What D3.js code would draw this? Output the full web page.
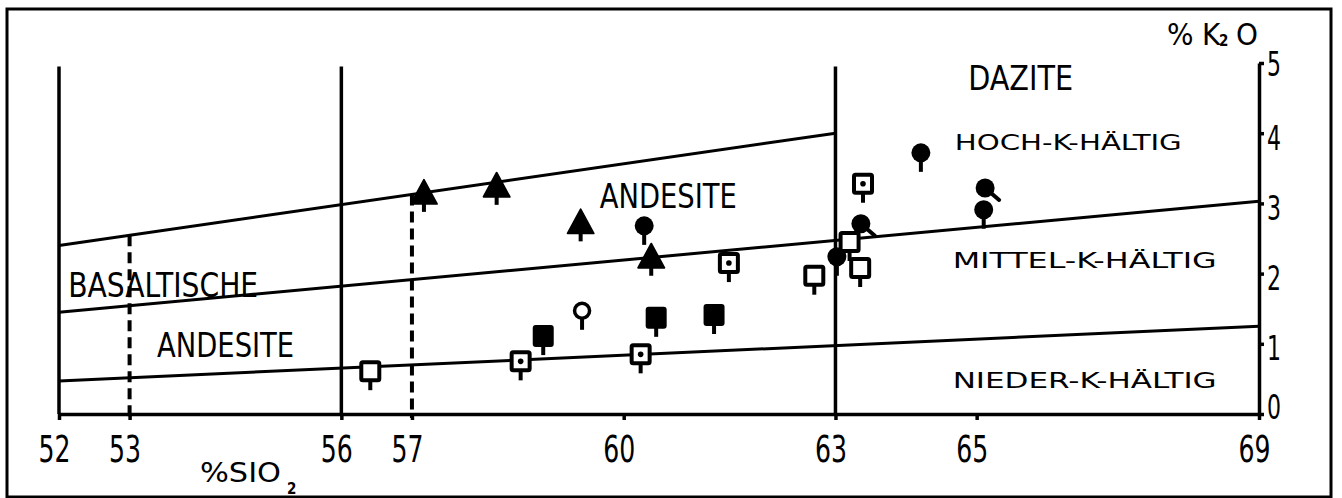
<!DOCTYPE html>
<html>
<head>
<meta charset="utf-8">
<script src="https://cdn.jsdelivr.net/npm/d3@7"></script>
<style>
  body { margin: 0; background: #fff; }
  svg { display: block; }
  text { font-family: "Liberation Sans Narrow", "DejaVu Sans Condensed", "Liberation Sans", sans-serif; fill: #000; }
</style>
</head>
<body>
<svg width="1342" height="498"></svg>
<script>
// tick labels
const sio2Ticks = [52, 53, 56, 57, 60, 63, 65, 69];
const k2oTicks = [0, 1, 2, 3, 4, 5];

// field boundaries (SiO2)
const solidBounds = [52, 56, 63];
const dashedBounds = [53, 57];

// K2O dividing lines, [SiO2, K2O]
const highLine = [[52, 2.4], [63, 4.0]];
const midLine = [[52, 1.45], [69, 3.03]];
const lowLine = [[52, 0.47], [69, 1.25]];

// samples by symbol, [SiO2, K2O]
const triangles = [[57.17, 3.15], [58.2, 3.25], [59.39, 2.73], [60.39, 2.24]];
const filledCircles = [[60.29, 2.68], [64.21, 3.72], [65.1, 2.91], [63.02, 2.24]];
const tailCircles = [[65.12, 3.22], [63.36, 2.71]];
const dotSquares = [[63.39, 3.28], [61.49, 2.15], [58.54, 0.75], [60.24, 0.85]];
const openSquares = [[56.41, 0.61], [62.7, 1.97], [63.2, 2.45], [63.35, 2.08]];
const filledSquares = [[58.86, 1.11], [60.46, 1.37], [61.28, 1.41]];
const openCircles = [[59.41, 1.47]];

const svg = d3.select('svg');

const x = d3.scaleLinear().domain([52, 69]).range([59, 1259]);
const y = d3.scaleLinear().domain([0, 5]).range([414, 63]);

// outer frame
svg.append('rect')
    .attr('x', 7).attr('y', 9)
    .attr('width', 1324).attr('height', 488)
    .style('fill', 'none')
    .style('stroke', '#000')
    .style('stroke-width', 3);

const line = d3.line().x(d => x(d[0])).y(d => y(d[1]));

// vertical field lines
svg.selectAll('.solid')
    .data(solidBounds)
    .enter()
    .append('line')
    .attr('x1', d => x(d)).attr('x2', d => x(d))
    .attr('y1', y(4.95)).attr('y2', y(0))
    .style('stroke', '#000')
    .style('stroke-width', 3.5);

const highAt = (s) => highLine[0][1] + (s - highLine[0][0]) * (highLine[1][1] - highLine[0][1]) / (highLine[1][0] - highLine[0][0]);

svg.selectAll('.dashed')
    .data(dashedBounds)
    .enter()
    .append('line')
    .attr('x1', d => x(d)).attr('x2', d => x(d))
    .attr('y1', d => y(highAt(d))).attr('y2', y(0) + 4)
    .style('stroke', '#000')
    .style('stroke-width', 4)
    .style('stroke-dasharray', '11,6');

// K2O dividing lines
[highLine, midLine, lowLine].forEach(l => {
    svg.append('path')
        .attr('d', line(l))
        .style('fill', 'none')
        .style('stroke', '#000')
        .style('stroke-width', 3);
});

// axes
const xAxis = svg.append('g')
    .attr('transform', `translate(0,${y(0)})`)
    .call(d3.axisBottom(x).tickValues(sio2Ticks).tickSize(6).tickSizeOuter(0).tickFormat(d3.format('d')));

const yAxis = svg.append('g')
    .attr('transform', `translate(${x(69)},0)`)
    .call(d3.axisRight(y).tickValues(k2oTicks).tickSize(5).tickSizeOuter(0).tickFormat(d3.format('d')));

[xAxis, yAxis].forEach(a => {
    a.select('.domain').style('stroke', '#000').style('stroke-width', 3.5);
    a.selectAll('.tick line').style('stroke', '#000').style('stroke-width', 3.5);
    a.selectAll('text').style('font-family', null).style('fill', '#000');
});

xAxis.selectAll('text')
    .attr('y', 48).attr('dy', 0).attr('dx', -5)
    .style('font-size', '37px')
    .attr('textLength', 32)
    .attr('lengthAdjust', 'spacingAndGlyphs');

yAxis.selectAll('text')
    .attr('x', 8).attr('y', d => d === 0 ? 4 : (d === 5 ? 12 : 16)).attr('dy', 0)
    .style('font-size', '33px')
    .attr('textLength', 14)
    .attr('lengthAdjust', 'spacingAndGlyphs');

// field labels
function label(txt, sx, ky, size, len) {
    svg.append('text')
        .attr('x', x(sx)).attr('y', y(ky))
        .style('font-size', size + 'px')
        .attr('textLength', len)
        .attr('lengthAdjust', 'spacingAndGlyphs')
        .text(txt);
}
label('BASALTISCHE', 52.13, 1.67, 34, 190);
label('ANDESITE', 53.39, 0.81, 34, 137);
label('ANDESITE', 59.66, 2.93, 34, 137);
label('DAZITE', 64.88, 4.62, 34, 105);
label('HOCH-K-HÄLTIG', 64.69, 3.76, 22, 227);
label('MITTEL-K-HÄLTIG', 64.66, 2.08, 22, 264);
label('NIEDER-K-HÄLTIG', 64.66, 0.37, 22, 264);

// axis titles
const kTitle = svg.append('text').attr('y', 45).style('font-size', '31px');
kTitle.append('tspan').attr('x', 1167).text('%');
kTitle.append('tspan').attr('x', 1202).text('K');
kTitle.append('tspan').attr('x', 1219).attr('y', 46).style('font-size', '15px').style('font-weight', 'bold').text('2');
kTitle.append('tspan').attr('x', 1236).attr('y', 45).text('O');

const sTitle = svg.append('text').attr('y', 482).style('font-size', '27px');
sTitle.append('tspan').attr('x', 200).attr('textLength', 81).attr('lengthAdjust', 'spacingAndGlyphs').text('%SIO');
sTitle.append('tspan').attr('x', 287).attr('y', 494).style('font-size', '15px').style('font-weight', 'bold').text('2');

// symbols with a short stem below
function stem(g, from) {
    g.append('line')
        .attr('x1', 0).attr('x2', 0)
        .attr('y1', from).attr('y2', 19)
        .style('stroke', '#000')
        .style('stroke-width', 4);
}
function points(data) {
    return svg.append('g').selectAll('g')
        .data(data)
        .enter()
        .append('g')
        .attr('transform', d => `translate(${x(d[0])},${y(d[1])})`);
}

points(triangles).each(function () {
    const g = d3.select(this);
    stem(g, 8);
    g.append('path')
        .attr('d', 'M0,-13 L13,11 L-13,11 Z')
        .style('fill', '#000')
        .style('stroke', '#000')
        .style('stroke-width', 2)
        .style('stroke-linejoin', 'round');
});

points(filledCircles).each(function () {
    const g = d3.select(this);
    stem(g, 6);
    g.append('circle').attr('r', 9.5).style('fill', '#000');
});

points(tailCircles).each(function () {
    const g = d3.select(this);
    g.append('line')
        .attr('x1', 0).attr('y1', 0).attr('x2', 14).attr('y2', 12)
        .style('stroke', '#000').style('stroke-width', 4).style('stroke-linecap', 'round');
    g.append('circle').attr('r', 9.5).style('fill', '#000');
});

points(openSquares).each(function () {
    const g = d3.select(this);
    stem(g, 10);
    g.append('rect')
        .attr('x', -9).attr('y', -9).attr('width', 18).attr('height', 18).attr('rx', 1.5)
        .style('fill', '#fff').style('stroke', '#000').style('stroke-width', 4);
});

points(dotSquares).each(function () {
    const g = d3.select(this);
    stem(g, 10);
    g.append('rect')
        .attr('x', -9).attr('y', -9).attr('width', 18).attr('height', 18).attr('rx', 1.5)
        .style('fill', '#fff').style('stroke', '#000').style('stroke-width', 4);
    g.append('circle').attr('r', 2.8).style('fill', '#000');
});

points(filledSquares).each(function () {
    const g = d3.select(this);
    stem(g, 10);
    g.append('rect')
        .attr('x', -10.5).attr('y', -11).attr('width', 21).attr('height', 22).attr('rx', 3)
        .style('fill', '#000');
});

points(openCircles).each(function () {
    const g = d3.select(this);
    stem(g, 7);
    g.append('circle').attr('r', 7.5)
        .style('fill', '#fff').style('stroke', '#000').style('stroke-width', 3.5);
});
</script>
</body>
</html>
